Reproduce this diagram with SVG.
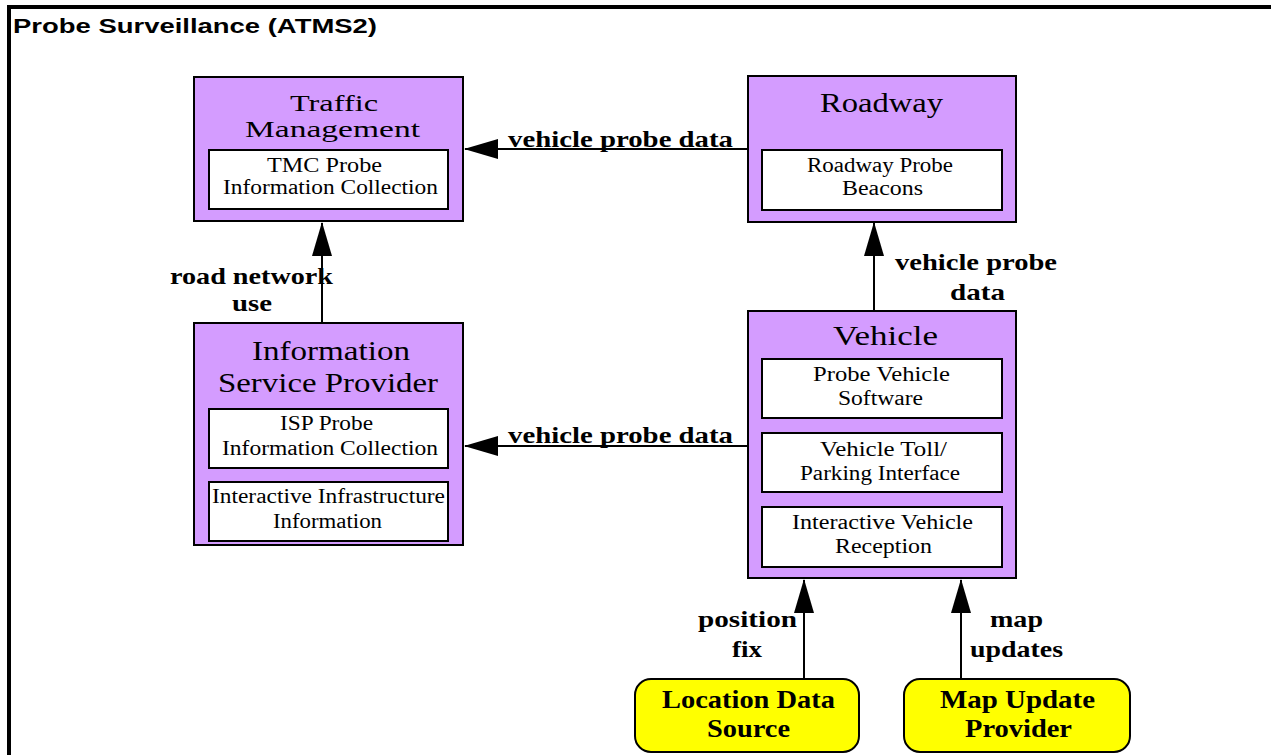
<svg xmlns="http://www.w3.org/2000/svg" width="1271" height="755" viewBox="0 0 1271 755">
<style>
.frame{fill:none;stroke:#000;stroke-width:4}
.title{font-family:"Liberation Sans",Arial,Helvetica,sans-serif;font-weight:bold;font-size:21px;fill:#000}
.main{fill:#D49CFF;stroke:#000;stroke-width:2}
.sub{fill:#fff;stroke:#000;stroke-width:2}
.term{fill:#FFFF00;stroke:#000;stroke-width:2}
.h{font-family:"Liberation Serif","Times New Roman",Times,serif;font-size:28px;fill:#000;text-anchor:middle}
.h2{font-family:"Liberation Serif","Times New Roman",Times,serif;font-size:23px;fill:#000;text-anchor:middle}
.s{font-family:"Liberation Serif","Times New Roman",Times,serif;font-size:20px;fill:#000;text-anchor:middle}
.lab{font-family:"Liberation Serif","Times New Roman",Times,serif;font-weight:bold;font-size:24px;fill:#000;text-anchor:middle}
.tl{font-family:"Liberation Serif","Times New Roman",Times,serif;font-weight:bold;font-size:26px;fill:#000;text-anchor:middle}
.flow{fill:none;stroke:#000;stroke-width:2;marker-end:url(#arr)}
</style>
<defs>
<marker id="arr" markerUnits="userSpaceOnUse" markerWidth="34" markerHeight="20" viewBox="0 0 34 20" refX="33" refY="10" orient="auto">
<path d="M0,0 L34,10 L0,20 Z" fill="#000"/>
</marker>
</defs>
<rect width="1271" height="755" fill="#fff"/>
<path class="frame" d="M9,800 L9,7 L1300,7"/>
<text class="title" x="13" y="33" textLength="364" lengthAdjust="spacingAndGlyphs">Probe Surveillance (ATMS2)</text>

<g id="connectors">
<line class="flow" x1="748" y1="149" x2="465" y2="149"/>
<line class="flow" x1="748" y1="446" x2="465" y2="446"/>
<line class="flow" x1="322" y1="323" x2="322" y2="223"/>
<line class="flow" x1="874" y1="311" x2="874" y2="223"/>
<line class="flow" x1="804" y1="679" x2="804" y2="580"/>
<line class="flow" x1="961" y1="679" x2="961" y2="580"/>
<text class="lab" x="620.5" y="147" textLength="225" lengthAdjust="spacingAndGlyphs">vehicle probe data</text>
<text class="lab" x="620.5" y="443" textLength="225" lengthAdjust="spacingAndGlyphs">vehicle probe data</text>
<text class="lab" x="251.5" y="284" textLength="163" lengthAdjust="spacingAndGlyphs">road network</text>
<text class="lab" x="252" y="311" textLength="40" lengthAdjust="spacingAndGlyphs">use</text>
<text class="lab" x="976" y="270" textLength="162" lengthAdjust="spacingAndGlyphs">vehicle probe</text>
<text class="lab" x="977.5" y="300" textLength="55" lengthAdjust="spacingAndGlyphs">data</text>
<text class="lab" x="747.5" y="627" textLength="99" lengthAdjust="spacingAndGlyphs">position</text>
<text class="lab" x="747" y="657" textLength="30" lengthAdjust="spacingAndGlyphs">fix</text>
<text class="lab" x="1016.5" y="627" textLength="53" lengthAdjust="spacingAndGlyphs">map</text>
<text class="lab" x="1016.5" y="657" textLength="93" lengthAdjust="spacingAndGlyphs">updates</text>
</g>

<g id="traffic-management">
<rect class="main" x="194" y="77" width="269" height="144"/>
<text class="h2" x="334" y="111" textLength="88" lengthAdjust="spacingAndGlyphs">Traffic</text>
<text class="h2" x="332.5" y="137" textLength="175" lengthAdjust="spacingAndGlyphs">Management</text>
<rect class="sub" x="209" y="150" width="239" height="59"/>
<text class="s" x="324.5" y="172" textLength="115" lengthAdjust="spacingAndGlyphs">TMC Probe</text>
<text class="s" x="330.5" y="194" textLength="215" lengthAdjust="spacingAndGlyphs">Information Collection</text>
</g>

<g id="roadway">
<rect class="main" x="748" y="76" width="268" height="146"/>
<text class="h" x="881.5" y="112" textLength="123" lengthAdjust="spacingAndGlyphs">Roadway</text>
<rect class="sub" x="762" y="150" width="240" height="60"/>
<text class="s" x="880" y="172" textLength="146" lengthAdjust="spacingAndGlyphs">Roadway Probe</text>
<text class="s" x="882.5" y="195" textLength="81" lengthAdjust="spacingAndGlyphs">Beacons</text>
</g>

<g id="information-service-provider">
<rect class="main" x="194" y="323" width="269" height="222"/>
<text class="h" x="331" y="360" textLength="158" lengthAdjust="spacingAndGlyphs">Information</text>
<text class="h" x="328" y="392" textLength="220" lengthAdjust="spacingAndGlyphs">Service Provider</text>
<rect class="sub" x="209" y="409" width="239" height="59"/>
<text class="s" x="326.5" y="430" textLength="93" lengthAdjust="spacingAndGlyphs">ISP Probe</text>
<text class="s" x="330" y="455" textLength="216" lengthAdjust="spacingAndGlyphs">Information Collection</text>
<rect class="sub" x="209" y="482" width="239" height="59"/>
<text class="s" x="328.5" y="503" textLength="233" lengthAdjust="spacingAndGlyphs">Interactive Infrastructure</text>
<text class="s" x="327.5" y="528" textLength="109" lengthAdjust="spacingAndGlyphs">Information</text>
</g>

<g id="vehicle">
<rect class="main" x="748" y="311" width="268" height="267"/>
<text class="h" x="885.5" y="345" textLength="105" lengthAdjust="spacingAndGlyphs">Vehicle</text>
<rect class="sub" x="762" y="359" width="240" height="59"/>
<text class="s" x="881.5" y="381" textLength="137" lengthAdjust="spacingAndGlyphs">Probe Vehicle</text>
<text class="s" x="880.5" y="405" textLength="85" lengthAdjust="spacingAndGlyphs">Software</text>
<rect class="sub" x="762" y="433" width="240" height="59"/>
<text class="s" x="883.5" y="456" textLength="127" lengthAdjust="spacingAndGlyphs">Vehicle Toll/</text>
<text class="s" x="880" y="480" textLength="160" lengthAdjust="spacingAndGlyphs">Parking Interface</text>
<rect class="sub" x="762" y="507" width="240" height="60"/>
<text class="s" x="882.5" y="529" textLength="181" lengthAdjust="spacingAndGlyphs">Interactive Vehicle</text>
<text class="s" x="883.5" y="553" textLength="97" lengthAdjust="spacingAndGlyphs">Reception</text>
</g>

<g id="location-data-source">
<rect class="term" x="635" y="679" width="224" height="73" rx="16" ry="16"/>
<text class="tl" x="748.5" y="708" textLength="173" lengthAdjust="spacingAndGlyphs">Location Data</text>
<text class="tl" x="748.5" y="737" textLength="83" lengthAdjust="spacingAndGlyphs">Source</text>
</g>

<g id="map-update-provider">
<rect class="term" x="904" y="679" width="226" height="73" rx="16" ry="16"/>
<text class="tl" x="1017.5" y="708" textLength="155" lengthAdjust="spacingAndGlyphs">Map Update</text>
<text class="tl" x="1018.5" y="737" textLength="107" lengthAdjust="spacingAndGlyphs">Provider</text>
</g>
</svg>
